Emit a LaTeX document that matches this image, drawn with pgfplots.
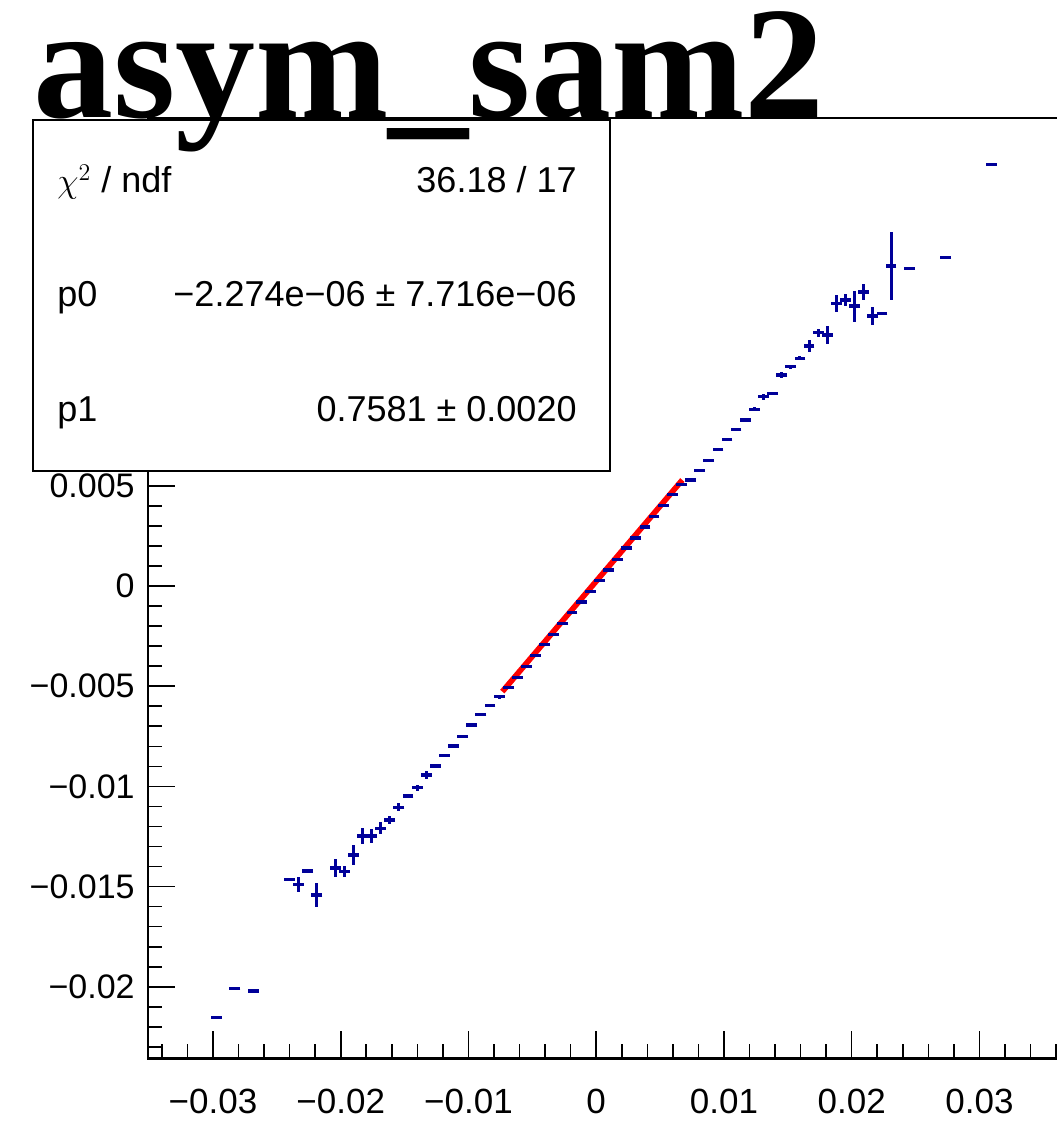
\documentclass[border=0pt]{standalone}
\usepackage{fontspec}
\setmainfont{Liberation Sans}
\newfontfamily\titlefont{Liberation Serif}
\usepackage{pgfplots}
\pgfplotsset{compat=1.18}
\usepackage{pgfplotstable}
\definecolor{rootblue}{RGB}{0,0,153}

\pgfplotstableread{
x y ey
-0.02972 -0.02154 0
-0.02829 -0.02008 0
-0.02686 -0.02021 0
-0.02401 -0.01464 0
-0.02330 -0.01489 0.000374
-0.02258 -0.01422 0
-0.02187 -0.01542 0.000584
-0.02044 -0.01407 0.000434
-0.01973 -0.01425 0.000274
-0.01902 -0.01342 0.000499
-0.01830 -0.01248 0.000399
-0.01759 -0.01248 0.000349
-0.01688 -0.01210 0.000299
-0.01616 -0.01168 0.0002
-0.01545 -0.01104 0.0002
-0.01473 -0.01048 0.0001
-0.01402 -0.01006 0.00015
-0.01331 -0.00943 0.0002
-0.01259 -0.00898 0.0001
-0.01188 -0.00847 0.00008
-0.01117 -0.00798 0.00008
-0.01045 -0.00752 0.00008
-0.00974 -0.00694 0.00008
-0.00903 -0.00640 0.00008
-0.00831 -0.00597 0.00008
-0.00760 -0.00552 0.0001
-0.00689 -0.00508 0.00008
-0.00617 -0.00455 0.00008
-0.00546 -0.00402 0.00008
-0.00475 -0.00345 0.00008
-0.00403 -0.00293 0.00008
-0.00332 -0.00241 0.00008
-0.00261 -0.00186 0.00008
-0.00189 -0.00134 0.00008
-0.00118 -0.00080 0.00008
-0.00046 -0.00028 0.00008
0.00025 0.00026 0.00008
0.00096 0.00080 0.00008
0.00168 0.00133 0.00008
0.00239 0.00190 0.00008
0.00310 0.00239 0.00008
0.00382 0.00294 0.00008
0.00453 0.00348 0.00008
0.00525 0.00401 0.00008
0.00596 0.00455 0.00008
0.00667 0.00507 0.00008
0.00739 0.00529 0.00008
0.00810 0.00576 0.00008
0.00881 0.00626 0.00008
0.00953 0.00682 0.00008
0.01024 0.00729 0.00008
0.01095 0.00782 0.00008
0.01167 0.00828 0.0001
0.01238 0.00881 0.0001
0.01309 0.00945 0.00015
0.01381 0.00962 0.00008
0.01452 0.01053 0.00015
0.01523 0.01094 0.0001
0.01595 0.01136 0.0001
0.01666 0.01198 0.0003
0.01738 0.01264 0.0002
0.01809 0.01252 0.00045
0.01880 0.01411 0.000424
0.01952 0.01427 0.0003
0.02023 0.01397 0.000773
0.02094 0.01467 0.0004
0.02166 0.01347 0.000449
0.02237 0.01361 0
0.02308 0.01597 0.0017
0.02451 0.01585 0
0.02737 0.01638 0
0.03093 0.02104 0
}\asym

\begin{document}
\begin{tikzpicture}
\begin{axis}[
  at={(74pt,34.75pt)}, anchor=south west,
  width=456pt, height=470.25pt, scale only axis,
  xmin=-0.03509, xmax=0.03631, ymin=-0.023578, ymax=0.023353,
  tick pos=left, tick align=inside,
  scaled ticks=false,
  xtick={-0.03,-0.02,-0.01,0,0.01,0.02,0.03},
  xticklabels={−0.03,−0.02,−0.01,0,0.01,0.02,0.03},
  ytick={-0.02,-0.015,-0.01,-0.005,0,0.005},
  yticklabels={−0.02,−0.015,−0.01,−0.005,0,0.005},
  minor xtick={-0.034,-0.032,-0.028,-0.026,-0.024,-0.022,-0.018,-0.016,-0.014,-0.012,-0.008,-0.006,-0.004,-0.002,0.002,0.004,0.006,0.008,0.012,0.014,0.016,0.018,0.022,0.024,0.026,0.028,0.032,0.034,0.036},
  minor ytick={-0.023,-0.022,-0.021,-0.019,-0.018,-0.017,-0.016,-0.014,-0.013,-0.012,-0.011,-0.009,-0.008,-0.007,-0.006,-0.004,-0.003,-0.002,-0.001,0.001,0.002,0.003,0.004},
  major tick length=13.5pt, minor tick length=7pt,
  tick style={black, line width=0.8pt},
  axis line style={line width=1.1pt},
  xticklabel style={font=\fontsize{17.5}{17.5}\selectfont, anchor=north, inner sep=0pt, yshift=-15pt},
  yticklabel style={font=\fontsize{17}{17}\selectfont, anchor=east, inner sep=0pt, xshift=-6.5pt},
]
\addplot[rootblue, only marks, mark=-, mark size=2.7pt,
  mark options={line width=1.6pt, solid},
  error bars/.cd, y dir=both, y explicit,
  error mark=none, error bar style={line width=1.5pt, rootblue}]
  table[x=x, y=y, y error=ey] {\asym};
\addplot[red, line width=2.8pt] coordinates {(-0.00735,-0.00527) (0.00674,0.00529)};
\end{axis}
\draw[line width=1pt, fill=white] (16.5pt,328.5pt) rectangle (305pt,504pt);
\node[anchor=base west, inner sep=0pt, font=\fontsize{18}{18}\selectfont] at (28.5pt,467.5pt) {$\chi^{2}$ / ndf};
\node[anchor=base east, inner sep=0pt, font=\fontsize{18}{18}\selectfont] at (288.5pt,467.5pt) {36.18 / 17};
\node[anchor=base west, inner sep=0pt, font=\fontsize{18}{18}\selectfont] at (28.5pt,410.5pt) {p0};
\node[anchor=base east, inner sep=0pt, font=\fontsize{18}{18}\selectfont] at (288.5pt,410.5pt) {−2.274e−06 ± 7.716e−06};
\node[anchor=base west, inner sep=0pt, font=\fontsize{18}{18}\selectfont] at (28.5pt,353pt) {p1};
\node[anchor=base east, inner sep=0pt, font=\fontsize{18}{18}\selectfont] at (288.5pt,353pt) {0.7581 ± 0.0020};
\node[anchor=base west, inner sep=0pt, font=\titlefont\bfseries\fontsize{80}{80}\selectfont] at (16.5pt,505pt) {asym\_sam2};
\pgfresetboundingbox
\path[use as bounding box] (0pt,0pt) rectangle (528pt,564pt);
\end{tikzpicture}
\end{document}
